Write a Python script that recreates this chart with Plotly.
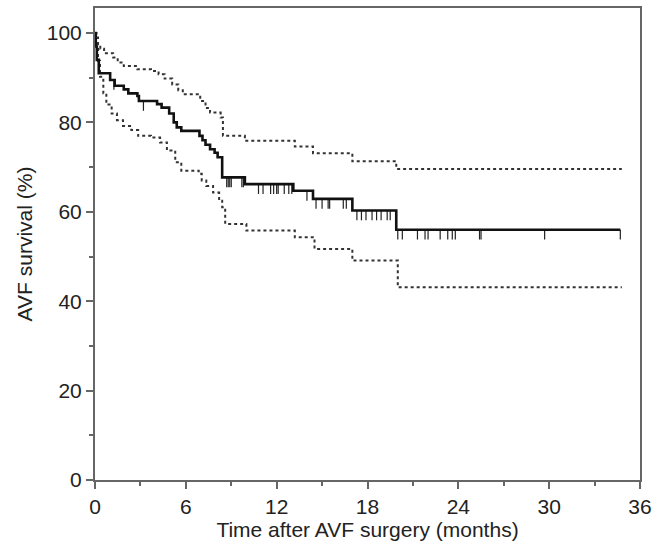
import plotly.graph_objects as go
import bisect

# Kaplan-Meier estimate (step function): time (months) and survival (%)
km_time = [0, 0.05, 0.12, 0.25, 1.0, 1.3, 1.9, 2.2, 2.8, 2.9, 4.1, 4.4, 4.9, 5.2, 5.4, 5.7,
           6.9, 7.1, 7.3, 7.6, 7.9, 8.1, 8.4, 9.9, 13.1, 14.4, 17.0, 19.9, 34.7]
km_surv = [100, 97, 94, 91, 89.5, 88.2, 87.4, 86.5, 85.9, 84.8, 84.1, 83.3, 82.0, 80.0, 78.9, 78.1,
           77.0, 76.0, 75.0, 74.0, 73.2, 72.2, 67.7, 66.2, 64.7, 62.9, 60.3, 56.0, 56.0]

# Upper 95% confidence limit
up_time = [0, 0.1, 0.2, 0.35, 0.6, 1.2, 1.5, 1.9, 2.8, 3.7, 4.2, 4.6, 5.1, 5.5, 5.8,
           6.95, 7.3, 7.6, 8.3, 8.45, 9.9, 13.2, 14.4, 17.0, 19.9, 34.8]
up_surv = [100, 99, 97.5, 96.5, 95.5, 94.5, 93.4, 92.6, 91.9, 91.5, 90.8, 89.8, 88.5, 87.2, 86.3,
           84.8, 83.2, 82.2, 81.1, 77.0, 75.9, 74.6, 73.1, 71.3, 69.6, 69.6]

# Lower 95% confidence limit
lo_time = [0, 0.05, 0.2, 0.33, 0.55, 0.75, 1.1, 1.45, 1.85, 2.4, 2.85, 3.7, 4.3, 4.75, 5.3, 5.7,
           6.85, 7.05, 7.35, 7.8, 8.2, 8.4, 8.6, 10.0, 13.2, 14.5, 17.0, 20.0, 34.8]
lo_surv = [100, 97.5, 93.8, 90.2, 86.5, 84.0, 82.0, 80.5, 79.2, 78.3, 77.0, 76.6, 75.5, 73.7, 71.1, 69.2,
           68.5, 67.0, 65.8, 64.3, 62.5, 61.0, 57.3, 55.8, 54.3, 51.7, 49.1, 43.1, 43.1]

# Censored observations (months)
censor_time = [1.25, 3.2, 8.7, 8.8, 8.9, 9.0, 9.7, 9.8,
               10.8, 11.1, 11.6, 11.8, 12.0, 12.1, 12.5, 12.8, 13.0, 14.0,
               14.6, 15.0, 15.4, 15.5, 16.4, 16.6,
               17.3, 17.6, 17.9, 18.3, 18.6, 18.9, 19.3, 19.5,
               20.0, 20.3, 21.3, 21.8, 22.0, 22.8, 23.3, 23.6, 23.8, 25.4, 25.5, 29.7, 34.7]

x_ticks = [0, 6, 12, 18, 24, 30, 36]
y_ticks = [0, 20, 40, 60, 80, 100]


def km_at(t):
    i = bisect.bisect_right(km_time, t) - 1
    return km_surv[max(i, 0)]


TICK_LEN = 2.2
cx, cy = [], []
for t in censor_time:
    s = km_at(t)
    cx += [t, t, None]
    cy += [s, s - TICK_LEN, None]

fig = go.Figure()
band_line = dict(color="#333333", width=2, dash="3px,3px", shape="hv")
fig.add_trace(go.Scatter(x=up_time, y=up_surv, mode="lines", line=band_line, hoverinfo="skip"))
fig.add_trace(go.Scatter(x=lo_time, y=lo_surv, mode="lines", line=band_line, hoverinfo="skip"))
fig.add_trace(go.Scatter(x=cx, y=cy, mode="lines", line=dict(color="#222222", width=1.2), hoverinfo="skip"))
fig.add_trace(go.Scatter(x=km_time, y=km_surv, mode="lines",
                         line=dict(color="#111111", width=2.6, shape="hv")))

font = dict(family="Liberation Sans, Arial, sans-serif", size=21, color="#222222")
axis_common = dict(
    showline=True, linecolor="#666666", linewidth=2, mirror=True,
    ticks="outside", ticklen=7, tickwidth=1.5, tickcolor="#666666",
    showgrid=False, zeroline=False, tickfont=font, automargin=False,
)
fig.update_xaxes(range=[0, 36], tickvals=x_ticks,
                 minor=dict(ticks="outside", ticklen=4, tickwidth=1.5, tickcolor="#666666", dtick=3, tick0=0),
                 title=dict(text="Time after AVF surgery (months)", font=font, standoff=0),
                 **axis_common)
fig.update_yaxes(range=[0, 105.6], tickvals=y_ticks,
                 minor=dict(ticks="outside", ticklen=4, tickwidth=1.5, tickcolor="#666666", dtick=10, tick0=0),
                 title=dict(text="AVF survival (%)", font=font, standoff=8),
                 **axis_common)
fig.update_layout(
    width=656, height=547,
    margin=dict(l=95, r=16, t=8, b=67),
    plot_bgcolor="white", paper_bgcolor="white",
    showlegend=False,
)
fig.write_html("out.html", config={"displayModeBar": False},
               post_script="document.body.style.margin='0';document.body.style.overflow='hidden';")
